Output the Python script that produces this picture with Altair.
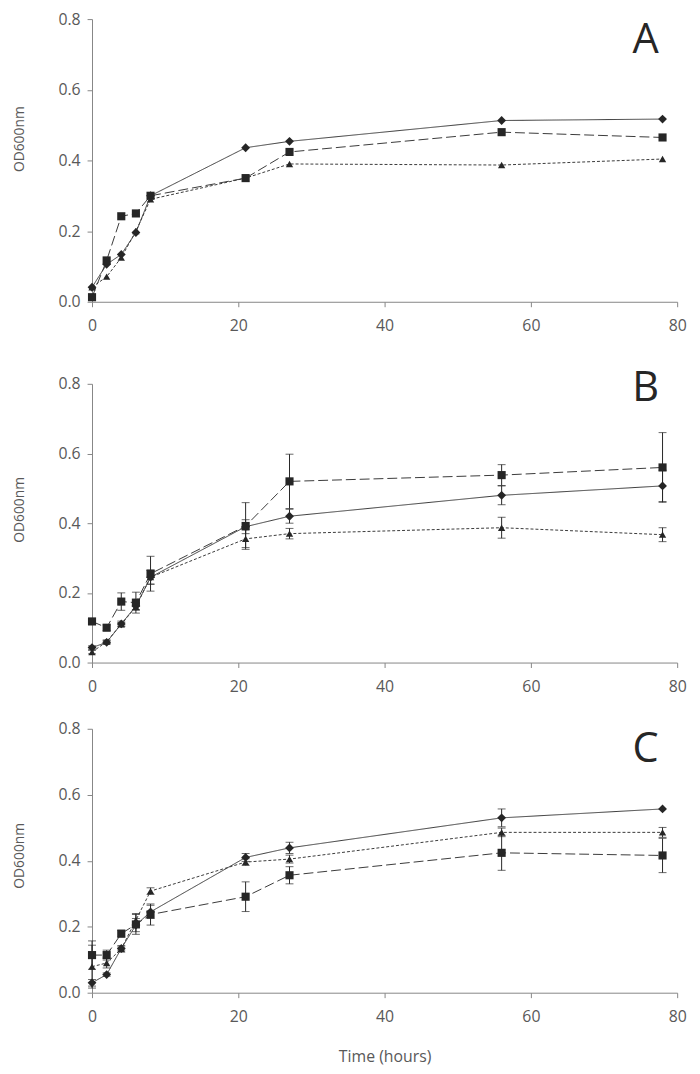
import altair as alt
import pandas as pd

hours = [0, 2, 4, 6, 8, 21, 27, 56, 78]
series_names = ["diamond", "square", "triangle"]
x_ticks = [0, 20, 40, 60, 80]
y_ticks = [0.0, 0.2, 0.4, 0.6, 0.8]

# Panel A
a_diamond = [0.041, 0.106, 0.134, 0.196, 0.300, 0.436, 0.454, 0.513, 0.517]
a_square = [0.013, 0.117, 0.242, 0.250, 0.300, 0.350, 0.424, 0.480, 0.465]
a_triangle = [0.041, 0.071, 0.125, 0.200, 0.290, 0.350, 0.390, 0.387, 0.404]
a_diamond_err = [0, 0, 0, 0, 0, 0, 0, 0, 0]
a_square_err = [0, 0, 0, 0, 0, 0, 0, 0, 0]
a_triangle_err = [0, 0, 0, 0, 0, 0, 0, 0, 0]

# Panel B
b_diamond = [0.043, 0.058, 0.111, 0.162, 0.245, 0.390, 0.420, 0.480, 0.507]
b_square = [0.118, 0.100, 0.175, 0.172, 0.255, 0.392, 0.520, 0.538, 0.560]
b_triangle = [0.030, 0.060, 0.110, 0.160, 0.245, 0.355, 0.370, 0.387, 0.367]
b_diamond_err = [0.005, 0.005, 0.008, 0.010, 0.020, 0.020, 0.020, 0.027, 0.045]
b_square_err = [0.008, 0.008, 0.025, 0.030, 0.050, 0.067, 0.078, 0.030, 0.100]
b_triangle_err = [0.005, 0.005, 0.005, 0.010, 0.020, 0.025, 0.015, 0.030, 0.020]

# Panel C
c_diamond = [0.030, 0.055, 0.134, 0.205, 0.245, 0.410, 0.439, 0.530, 0.557]
c_square = [0.114, 0.114, 0.179, 0.207, 0.237, 0.291, 0.356, 0.424, 0.416]
c_triangle = [0.079, 0.090, 0.133, 0.220, 0.308, 0.396, 0.405, 0.486, 0.486]
c_diamond_err = [0.010, 0.005, 0.005, 0.020, 0.020, 0.012, 0.017, 0.027, 0.0]
c_square_err = [0.043, 0.015, 0.010, 0.030, 0.032, 0.045, 0.026, 0.053, 0.052]
c_triangle_err = [0.065, 0.015, 0.010, 0.020, 0.010, 0.010, 0.012, 0.013, 0.015]

panel_labels = ["A", "B", "C"]

INK = "#262626"
LINE = "#3a3a3a"
GREY = "#595959"
AXIS = "#868686"
FONT = "Open Sans"


def build_df(vals_list, errs_list):
    rows = []
    for name, vals, errs in zip(series_names, vals_list, errs_list):
        for h, v, e in zip(hours, vals, errs):
            rows.append({"t": h, "v": v, "series": name, "err": e,
                         "lo": v - e, "hi": v + e})
    return pd.DataFrame(rows)


def panel(df, label, label_y, plot_h, top_gap, title_y, show_title):
    total_h = plot_h + top_gap
    xscale = alt.Scale(domain=[0, 80], nice=False, zero=False)
    yscale = alt.Scale(domain=[0, 0.8], nice=False, range=[total_h, top_gap])
    if show_title:
        xaxis = alt.Axis(values=x_ticks, title="Time (hours)", titlePadding=25,
                         labelFlush=False, titleFontSize=16)
    else:
        xaxis = alt.Axis(values=x_ticks, title=None, labelFlush=False)
    yaxis = alt.Axis(values=y_ticks, format=".1f", title="OD600nm",
                     titlePadding=32, titleY=title_y, titleFontSize=14)
    x = alt.X("t:Q", scale=xscale, axis=xaxis)
    y = alt.Y("v:Q", scale=yscale, axis=yaxis)

    base = alt.Chart(df)
    line = base.mark_line(color=LINE, strokeWidth=1).encode(
        x=x, y=y,
        strokeDash=alt.StrokeDash("series:N", scale=alt.Scale(
            domain=series_names, range=[[1, 0], [10, 4], [3, 2]]), legend=None),
    )
    errdf = base.transform_filter("datum.err > 0")
    rule = errdf.mark_rule(color=INK, strokeWidth=1).encode(
        x=alt.X("t:Q", scale=xscale),
        y=alt.Y("lo:Q", scale=yscale), y2="hi:Q")
    cap_lo = errdf.mark_tick(orient="horizontal", size=8, thickness=1, color=INK).encode(
        x=alt.X("t:Q", scale=xscale), y=alt.Y("lo:Q", scale=yscale))
    cap_hi = errdf.mark_tick(orient="horizontal", size=8, thickness=1, color=INK).encode(
        x=alt.X("t:Q", scale=xscale), y=alt.Y("hi:Q", scale=yscale))
    pts = base.mark_point(filled=True, opacity=1, color=INK).encode(
        x=x, y=y,
        shape=alt.Shape("series:N", scale=alt.Scale(
            domain=series_names, range=["diamond", "square", "triangle-up"]), legend=None),
        size=alt.Size("series:N", scale=alt.Scale(
            domain=series_names, range=[80, 55, 110]), legend=None),
    )
    txt = alt.Chart(pd.DataFrame({"label": [label]})).mark_text(
        font=FONT, fontSize=42, color=INK, align="center", baseline="alphabetic"
    ).encode(text="label:N", x=alt.value(560), y=alt.value(label_y))
    return alt.layer(line, rule, cap_lo, cap_hi, pts, txt).properties(
        width=592, height=total_h)


pa = panel(build_df([a_diamond, a_square, a_triangle],
                    [a_diamond_err, a_square_err, a_triangle_err]),
           panel_labels[0], 34, 286, 0, 121, False)
pb = panel(build_df([b_diamond, b_square, b_triangle],
                    [b_diamond_err, b_square_err, b_triangle_err]),
           panel_labels[1], 33, 282, 16, 143, False)
pc = panel(build_df([c_diamond, c_square, c_triangle],
                    [c_diamond_err, c_square_err, c_triangle_err]),
           panel_labels[2], 34, 267, 0, 128, True)

chart = alt.vconcat(pa, pb, pc, spacing=67, bounds="flush").properties(
    padding={"left": 4, "top": -3, "right": 5, "bottom": 0}
).configure_view(stroke=None).configure_axis(
    grid=False, domainColor=AXIS, tickColor=AXIS, labelColor=GREY,
    titleColor=GREY, labelFont=FONT, titleFont=FONT, labelFontSize=16,
    titleFontSize=15, titleFontWeight="normal", tickSize=5,
).configure_axisY(labelPadding=7).configure_axisX(labelPadding=11)

chart.save("out.html", embed_options={"renderer": "svg", "actions": False})
